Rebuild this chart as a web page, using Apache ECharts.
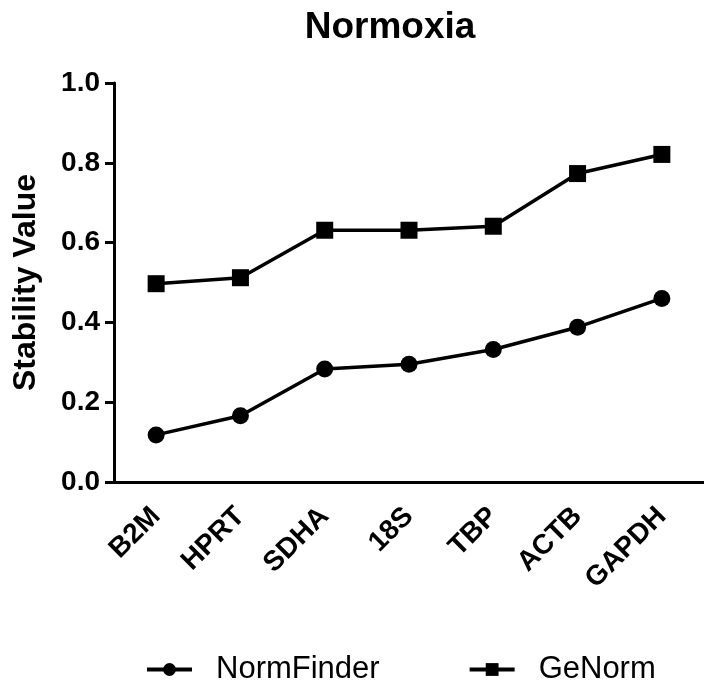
<!DOCTYPE html>
<html>
<head>
<meta charset="utf-8">
<script src="https://cdn.jsdelivr.net/npm/echarts@6/dist/echarts.min.js"></script>
<style>
  html, body { margin: 0; padding: 0; background: #fff; }
  #main { width: 704px; height: 683px; }
</style>
</head>
<body>
<div id="main"></div>
<script>
var genes = ['B2M', 'HPRT', 'SDHA', '18S', 'TBP', 'ACTB', 'GAPDH']
var normFinder = [0.118, 0.166, 0.283, 0.295, 0.332, 0.388, 0.460]
var geNorm = [0.497, 0.512, 0.631, 0.631, 0.641, 0.773, 0.821]
var yTicks = [0, 0.2, 0.4, 0.6, 0.8, 1.0]

var font = 'Liberation Sans, Arial, sans-serif'
var chart = echarts.init(document.getElementById('main'))
chart.setOption({
  animation: false,
  title: {
    text: 'Normoxia',
    left: 385,
    textAlign: 'center',
    top: 4,
    textStyle: { fontFamily: font, fontSize: 37, fontWeight: 'bold', color: '#000' }
  },
  grid: {
    left: 114,
    right: -7,
    top: 83,
    bottom: 683 - 482
  },
  legend: {
    bottom: -7,
    left: 140,
    itemWidth: 45,
    itemHeight: 16,
    itemGap: 88,
    data: ['NormFinder', 'GeNorm'],
    lineStyle: { width: 4 },
    textStyle: { fontFamily: font, fontSize: 31, color: '#000', padding: [0, 0, 0, 19] }
  },
  xAxis: {
    type: 'category',
    data: genes,
    boundaryGap: true,
    axisLine: { lineStyle: { color: '#000', width: 3 } },
    axisTick: { alignWithLabel: true, length: 9, lineStyle: { color: '#000', width: 3 } },
    axisLabel: {
      rotate: 45,
      margin: 30,
      interval: 0,
      fontFamily: font,
      fontSize: 28,
      fontWeight: 'bold',
      color: '#000'
    }
  },
  yAxis: {
    type: 'value',
    min: yTicks[0],
    max: yTicks[yTicks.length - 1],
    interval: 0.2,
    name: 'Stability Value',
    nameLocation: 'middle',
    nameGap: 72,
    nameTextStyle: { fontFamily: font, fontSize: 32, fontWeight: 'bold', color: '#000' },
    splitLine: { show: false },
    axisLine: { show: true, lineStyle: { color: '#000', width: 3 } },
    axisTick: { show: true, length: 9, lineStyle: { color: '#000', width: 3 } },
    axisLabel: {
      margin: 14,
      fontFamily: font,
      fontSize: 28,
      fontWeight: 'bold',
      color: '#000',
      formatter: function (v) { return v.toFixed(1) }
    }
  },
  series: [
    {
      name: 'NormFinder',
      type: 'line',
      data: normFinder,
      symbol: 'circle',
      symbolSize: 17,
      itemStyle: { color: '#000' },
      lineStyle: { color: '#000', width: 3.5 }
    },
    {
      name: 'GeNorm',
      type: 'line',
      data: geNorm,
      symbol: 'rect',
      symbolSize: 17,
      itemStyle: { color: '#000' },
      lineStyle: { color: '#000', width: 3.5 }
    }
  ]
})
</script>
</body>
</html>
